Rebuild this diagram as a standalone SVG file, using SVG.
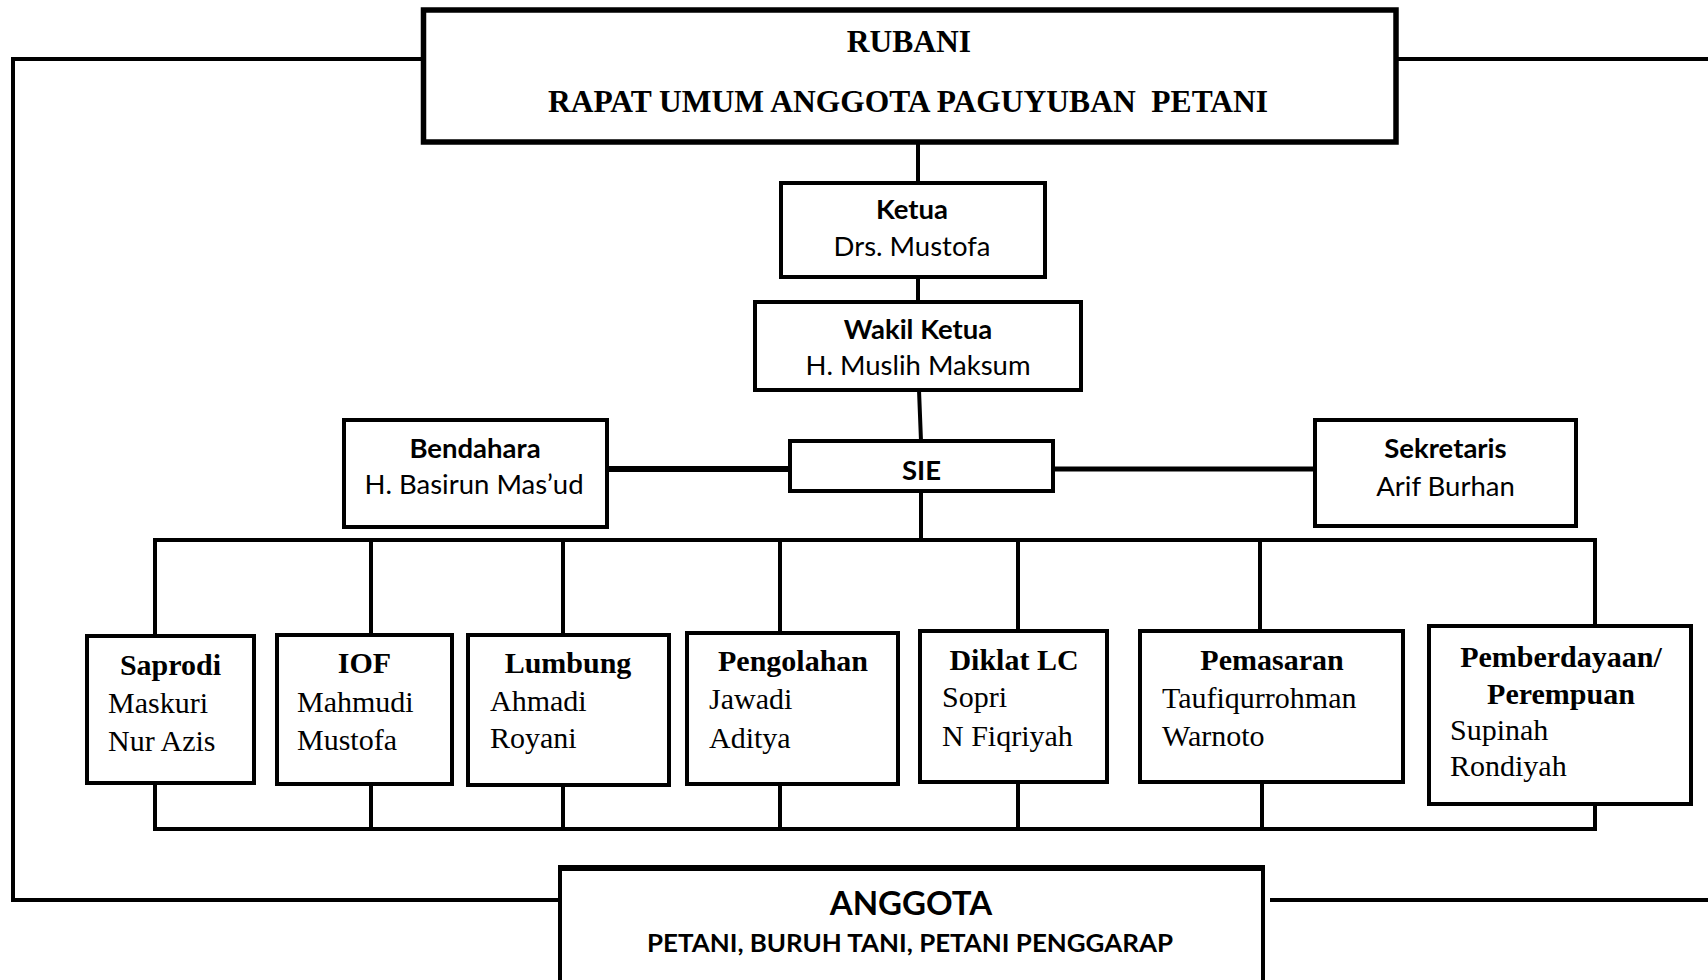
<svg xmlns="http://www.w3.org/2000/svg" width="1708" height="980" viewBox="0 0 1708 980">
<style>
.box{fill:#fff;stroke:#000;stroke-width:4}
.boxT{fill:#fff;stroke:#000;stroke-width:5.5}
.ln{stroke:#000;stroke-width:4;fill:none;stroke-linecap:square}
.lnT{stroke:#000;stroke-width:6;fill:none}
.sb{font-family:"Liberation Serif","Times New Roman",serif;font-weight:bold;font-size:30px;fill:#000}
.sr{font-family:"Liberation Serif","Times New Roman",serif;font-size:30px;fill:#000}
.top{font-family:"Liberation Serif","Times New Roman",serif;font-weight:bold;font-size:31.5px;fill:#000;white-space:pre}
.cb{font-family:Lato,"Noto Sans",sans-serif;font-weight:bold;font-size:27.5px;fill:#000}
.cr{font-family:Lato,"Noto Sans",sans-serif;font-size:27.5px;fill:#000}
.mid{text-anchor:middle}
</style>
<g id="connectors">
<polyline class="ln" points="423,59 13,59 13,900 562,900"/>
<line class="ln" x1="1396" y1="59" x2="1708" y2="59"/>
<line class="ln" x1="1272" y1="900" x2="1708" y2="900"/>
<line class="ln" x1="918" y1="144" x2="918" y2="182"/>
<line class="ln" x1="918" y1="278" x2="918" y2="302"/>
<line class="ln" x1="919" y1="390" x2="921" y2="441"/>
<line class="lnT" x1="607" y1="469" x2="790" y2="469"/>
<line class="lnT" x1="1053" y1="469" x2="1315" y2="469" style="stroke-width:5"/>
<line class="ln" x1="921" y1="491" x2="921" y2="540"/>
<polyline class="ln" points="155,636 155,540 1595,540 1595,625"/>
<line class="ln" x1="371" y1="540" x2="371" y2="634"/>
<line class="ln" x1="563" y1="540" x2="563" y2="634"/>
<line class="ln" x1="780" y1="540" x2="780" y2="632"/>
<line class="ln" x1="1018" y1="540" x2="1018" y2="630"/>
<line class="ln" x1="1260" y1="540" x2="1260" y2="630"/>
<polyline class="ln" points="155,783 155,829 1595,829 1595,805"/>
<line class="ln" x1="371" y1="784" x2="371" y2="829"/>
<line class="ln" x1="563" y1="785" x2="563" y2="829"/>
<line class="ln" x1="780" y1="784" x2="780" y2="829"/>
<line class="ln" x1="1018" y1="782" x2="1018" y2="829"/>
<line class="ln" x1="1262" y1="782" x2="1262" y2="829"/>
</g>
<g id="rubani">
<rect class="boxT" x="423.5" y="10" width="972.5" height="132"/>
<text class="top mid" x="909" y="52">RUBANI</text>
<text class="top mid" x="908" y="112">RAPAT UMUM ANGGOTA PAGUYUBAN  PETANI</text>
</g>
<g id="ketua">
<rect class="box" x="781" y="183" width="264" height="94"/>
<text class="cb mid" x="912" y="219">Ketua</text>
<text class="cr mid" x="912" y="256">Drs. Mustofa</text>
</g>
<g id="wakil">
<rect class="box" x="755" y="302" width="326" height="88"/>
<text class="cb mid" x="918" y="339">Wakil Ketua</text>
<text class="cr mid" x="918" y="375">H. Muslih Maksum</text>
</g>
<g id="sie">
<rect class="box" x="790" y="441" width="263" height="50"/>
<text class="cb mid" x="921.5" y="480">SIE</text>
</g>
<g id="bendahara">
<rect class="box" x="344" y="420" width="263" height="107"/>
<text class="cb mid" x="475" y="458">Bendahara</text>
<text class="cr mid" x="474" y="494">H. Basirun Mas’ud</text>
</g>
<g id="sekretaris">
<rect class="box" x="1315" y="420" width="261" height="106"/>
<text class="cb mid" x="1445.5" y="458">Sekretaris</text>
<text class="cr mid" x="1445.5" y="496">Arif Burhan</text>
</g>
<g id="saprodi">
<rect class="box" x="87" y="636" width="167" height="147"/>
<text class="sb mid" x="170.5" y="675">Saprodi</text>
<text class="sr" x="108" y="713">Maskuri</text>
<text class="sr" x="108" y="751">Nur Azis</text>
</g>
<g id="iof">
<rect class="box" x="277" y="635" width="175" height="149"/>
<text class="sb mid" x="364.5" y="673">IOF</text>
<text class="sr" x="297" y="712">Mahmudi</text>
<text class="sr" x="297" y="750">Mustofa</text>
</g>
<g id="lumbung">
<rect class="box" x="468" y="635" width="201" height="150"/>
<text class="sb mid" x="568" y="673">Lumbung</text>
<text class="sr" x="490" y="711">Ahmadi</text>
<text class="sr" x="490" y="748">Royani</text>
</g>
<g id="pengolahan">
<rect class="box" x="687" y="633" width="211" height="151"/>
<text class="sb mid" x="793" y="671">Pengolahan</text>
<text class="sr" x="709" y="709">Jawadi</text>
<text class="sr" x="709" y="748">Aditya</text>
</g>
<g id="diklat">
<rect class="box" x="920" y="631" width="187" height="151"/>
<text class="sb mid" x="1014" y="670">Diklat LC</text>
<text class="sr" x="942" y="707">Sopri</text>
<text class="sr" x="942" y="746">N Fiqriyah</text>
</g>
<g id="pemasaran">
<rect class="box" x="1140" y="631" width="263" height="151"/>
<text class="sb mid" x="1272" y="670">Pemasaran</text>
<text class="sr" x="1162" y="708">Taufiqurrohman</text>
<text class="sr" x="1162" y="746">Warnoto</text>
</g>
<g id="pemberdayaan">
<rect class="box" x="1429" y="626" width="262" height="178"/>
<text class="sb mid" x="1561" y="667">Pemberdayaan/</text>
<text class="sb mid" x="1561" y="704">Perempuan</text>
<text class="sr" x="1450" y="740">Supinah</text>
<text class="sr" x="1450" y="776">Rondiyah</text>
</g>
<g id="anggota">
<rect class="box" x="560" y="869" width="703" height="130"/>
<line x1="558" y1="868" x2="1265" y2="868" stroke="#000" stroke-width="6"/>
<text class="cb mid" x="911" y="915" style="font-size:33px">ANGGOTA</text>
<text class="cb mid" x="910" y="952" style="font-size:24px" textLength="526" lengthAdjust="spacingAndGlyphs">PETANI, BURUH TANI, PETANI PENGGARAP</text>
</g>
</svg>
